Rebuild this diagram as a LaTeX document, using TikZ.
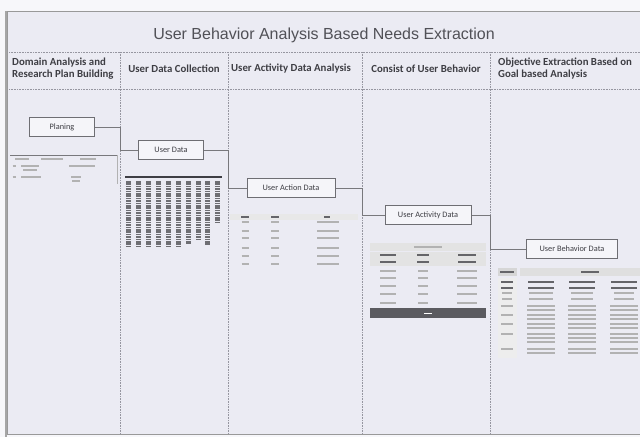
\documentclass[tikz,border=0pt]{standalone}
\usepackage{fontspec}
\setmainfont{Carlito}
\newfontfamily\titlefont{Liberation Sans}
\usetikzlibrary{positioning}
\definecolor{paper}{RGB}{235,235,243}
\definecolor{ink}{RGB}{62,62,68}
\definecolor{rule}{RGB}{150,150,160}
% one fake line of unreadable table text: centre x, y, width
\newcommand{\fk}[4][cell]{\draw[#1] ({#2-#4/2},#3) -- ({#2+#4/2},#3);}

\begin{document}
\begin{tikzpicture}[x=1pt, y=-1pt,
  databox/.style={rectangle, draw=ink!75, line width=1pt, fill=paper!50!white,
                  minimum height=19pt, inner sep=2pt, text=ink,
                  font=\fontsize{8.3}{9}\selectfont},
  head/.style={font=\bfseries\fontsize{10.8}{12}\selectfont, text=ink, inner sep=0pt},
  lane/.style={rule, densely dotted, line width=0.6pt},
  link/.style={ink!70, line width=0.6pt},
  cell/.style={gray!60, line width=1.3pt},
  dark/.style={ink!80, line width=1.3pt},
  band/.style={fill=gray!22, draw=none},
]
  \useasboundingbox (0,0) rectangle (640,437);
  \fill[paper!40!white] (0,0) rectangle (640,437);
  \fill[paper] (7,11) rectangle (650,434);
  \draw[gray!80, line width=1pt] (650,11) -- (7,11) -- (7,434) -- (650,434);
  \draw[gray!70, line width=2.5pt] (6,11) -- (6,437);

  \node[font=\titlefont\fontsize{16}{18}\selectfont, text=ink!90] (title) at (324,35)
    {User Behavior Analysis Based Needs Extraction};

  % lanes
  \draw[lane] (9,52) -- (640,52);
  \draw[lane] (9,89) -- (640,89);
  \foreach \x/\n in {120/l1, 228/l2, 362/l3, 490/l4} {
    \coordinate (\n) at (\x,52);
    \draw[lane] (\x,52) -- (\x,434);
  }

  \node[head, align=left, anchor=west] (h1) at (12,69) {Domain Analysis and\\Research Plan Building};
  \node[head] (h2) at (174,69) {User Data Collection};
  \node[head] (h3) at (291,69) {User Activity Data Analysis};
  \node[head] (h4) at (426,69) {Consist of User Behavior};
  \node[head, align=left, anchor=west] (h5) at (498,69) {Objective Extraction Based on\\Goal based Analysis};

  % data steps
  \node[databox, minimum width=65pt] (plan)   at (62,127)  {Planing};
  \node[databox, minimum width=65pt] (udata)  at (171,150) {User Data};
  \node[databox, minimum width=88pt] (action) at (291,188) {User Action Data};
  \node[databox, minimum width=86pt] (activ)  at (428,215) {User Activity Data};
  \node[databox, minimum width=91pt] (behav)  at (572,249) {User Behavior Data};

  \draw[link] (plan.east)   -| (l1 |- udata.west)  -- (udata.west);
  \draw[link] (udata.east)  -| (l2 |- action.west) -- (action.west);
  \draw[link] (action.east) -| (l3 |- activ.west)  -- (activ.west);
  \draw[link] (activ.east)  -| (l4 |- behav.west)  -- (behav.west);

  % table: research plan
  \draw[ink!70, line width=0.9pt] (10,155) -- (117,155);
  \draw[gray!60, line width=0.5pt] (117,155) -- (117,184);
  \fk{22}{159}{14} \fk{52}{159}{22} \fk{88}{159}{16}
  \fk{14}{166}{3} \fk{30}{166}{18} \fk{82}{166}{26}
  \fk{30}{170}{14}
  \fk{14}{177}{3} \fk{31}{177}{20} \fk{76}{177}{10} \fk{76}{181}{8}

  % table: raw user data
  \draw[ink, line width=1.6pt] (125,177) -- (222,177);
  \foreach \x/\e in {128/246, 138/246, 148/246, 158/247, 168/246,
                     178/246, 188/244, 198/240, 207/245, 217/223}
    \draw[ink!75, line width=5pt, dash pattern=on 1.5pt off 0.9pt] (\x,181) -- (\x,\e);

  % table: user action data
  \fill[gray!18] (230,214) rectangle (358,220);
  \fk[dark]{245}{217}{8} \fk[dark]{275}{217}{8} \fk[dark]{327}{217}{6}
  \foreach \y in {222, 231, 238, 248, 256, 264} {
    \fk{245}{\y}{7} \fk{275}{\y}{8} \fk{328}{\y}{22}
  }

  % table: user activity data
  \fill[band] (370,243) rectangle (486,251);
  \fk{428}{247}{28}
  \fill[band] (370,252) rectangle (486,266);
  \foreach \x/\w in {388/16, 423/12, 467/18} {
    \fk[dark]{\x}{255}{\w} \fk[dark]{\x}{262}{\w}
  }
  \foreach \y in {271, 278, 286, 294, 303} {
    \fk{388}{\y}{16} \fk{423}{\y}{10} \fk{467}{\y}{20}
  }
  \fill[ink!85] (370,308) rectangle (486,318);
  \fk[white]{428}{313}{8}

  % table: user behavior data
  \fill[gray!32] (498,268) rectangle (517,276);
  \fill[gray!25] (520,268) rectangle (640,276);
  \fk[dark]{507}{272}{14} \fk[dark]{590}{272}{18}
  \fill[gray!14] (498,278) rectangle (517,358);
  \foreach \y in {282, 288} {
    \fk[dark]{507}{\y}{12} \fk[dark]{541}{\y}{26} \fk[dark]{582}{\y}{26} \fk[dark]{624}{\y}{26}
  }
  \foreach \y in {293, 299} {
    \fk{507}{\y}{10} \fk{541}{\y}{24} \fk{582}{\y}{22} \fk{624}{\y}{20}
  }
  \foreach \y/\n in {306/2, 315/2, 324/2, 334/3, 349/2} {
    \fk{507}{\y}{12}
    \foreach \k in {1,...,\n} {
      \fk{541}{\y+4*\k-4}{28} \fk{582}{\y+4*\k-4}{28} \fk{624}{\y+4*\k-4}{28}
    }
  }
\end{tikzpicture}
\end{document}
